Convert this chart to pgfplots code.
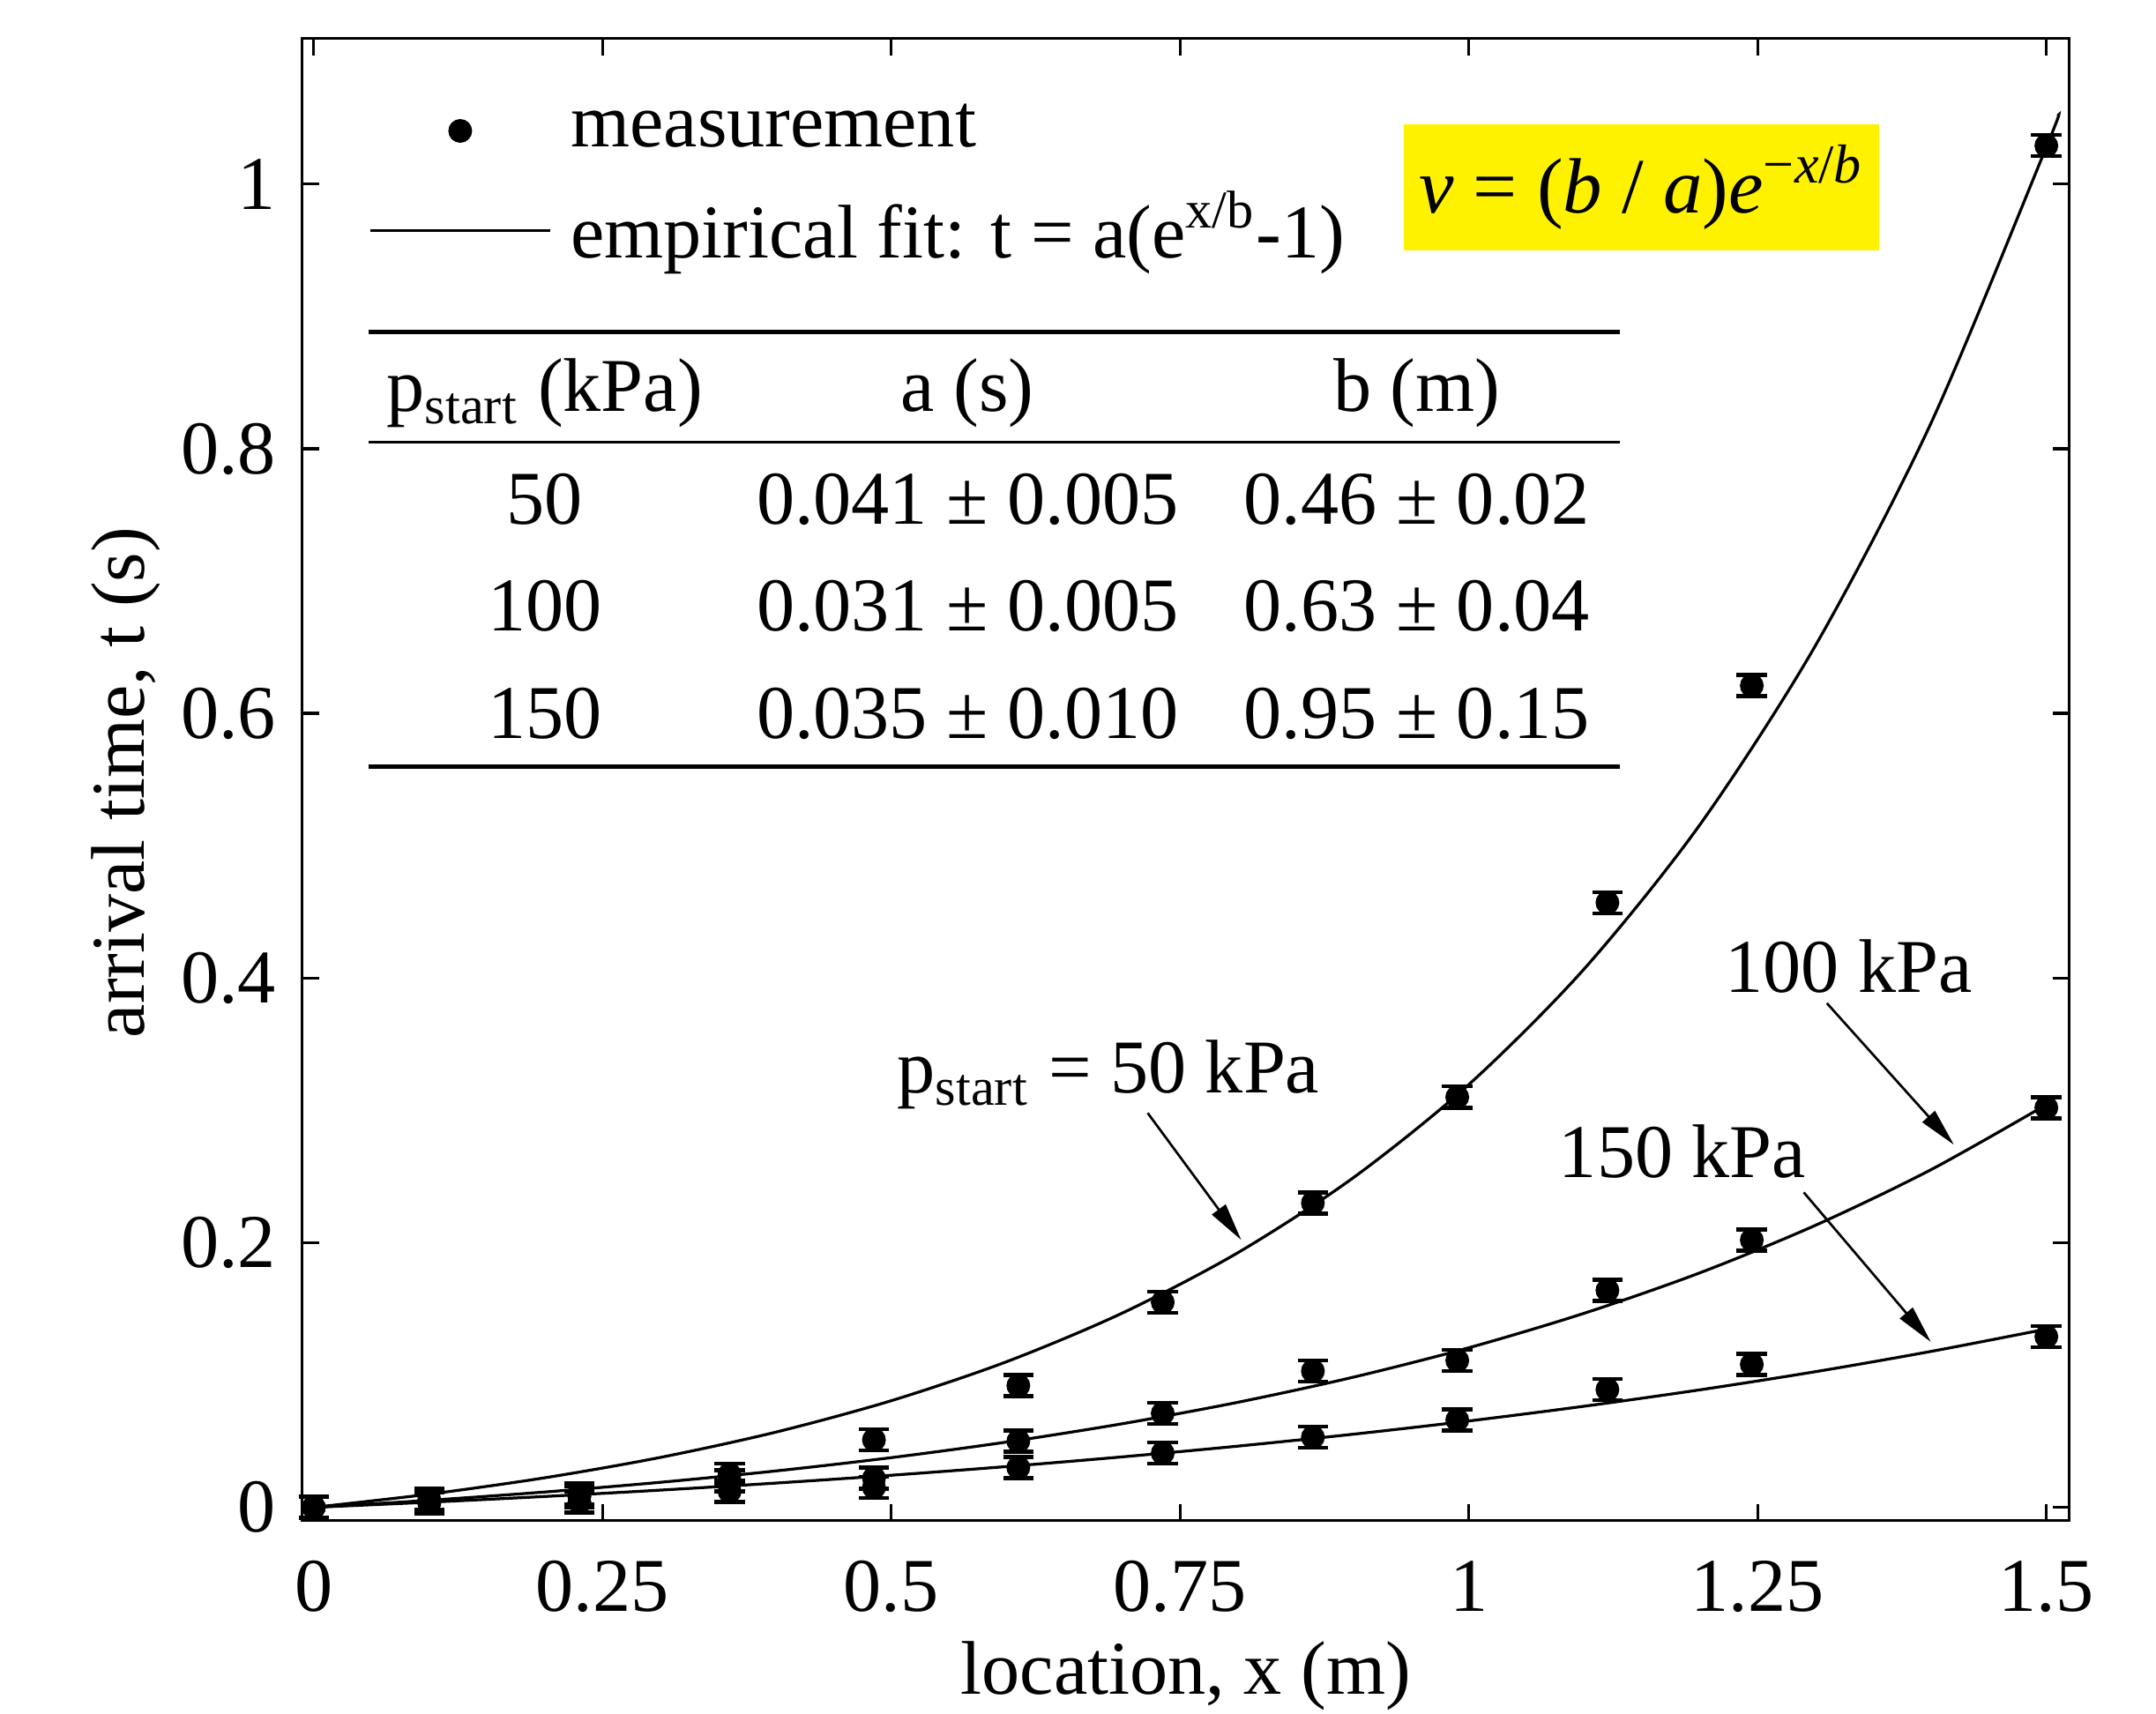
\documentclass[border=0pt]{standalone}
\usepackage{fontspec}
\setmainfont{Liberation Serif}
\usepackage{pgfplots}
\pgfplotsset{compat=1.18}
\usetikzlibrary{arrows.meta}

% measurements: x, t, error
\pgfplotstableread{
x     t      e
0     0      0.008
0.1   0.006  0.008
0.23  0.010  0.008
0.36  0.025  0.008
0.485 0.051  0.008
0.61  0.092  0.008
0.735 0.155  0.008
0.865 0.230  0.008
0.99  0.310  0.008
1.12  0.457  0.008
1.245 0.621  0.008
1.5   1.029  0.008
}\measA
\pgfplotstableread{
x     t      e
0     0      0.008
0.1   0.004  0.008
0.23  0.008  0.008
0.36  0.020  0.008
0.485 0.022  0.008
0.61  0.050  0.008
0.735 0.071  0.008
0.865 0.103  0.008
0.99  0.111  0.008
1.12  0.164  0.008
1.245 0.202  0.008
1.5   0.302  0.008
}\measB
\pgfplotstableread{
x     t      e
0     0      0.008
0.1   0.003  0.008
0.23  0.004  0.008
0.36  0.012  0.008
0.485 0.015  0.008
0.61  0.030  0.008
0.735 0.041  0.008
0.865 0.053  0.008
0.99  0.066  0.008
1.12  0.089  0.008
1.245 0.108  0.008
1.5   0.129  0.008
}\measC

\begin{document}
\fontsize{16}{19}\selectfont
\begin{tikzpicture}
\begin{axis}[
  scale only axis, width=372pt, height=312pt,
  xmin=-0.01, xmax=1.52, ymin=-0.01, ymax=1.11,
  xtick={0,0.25,0.5,0.75,1,1.25,1.5},
  ytick={0,0.2,0.4,0.6,0.8,1},
  tick align=inside, major tick length=3.5pt,
  /pgf/number format/assume math mode=true,
  axis line style={line width=0.6pt},
  tick style={line width=0.6pt, black},
  xlabel={location, x (m)}, ylabel={arrival time, t (s)},
  every axis x label/.style={at={(rel axis cs:0.5,-0.105)}, anchor=center, inner sep=0pt},
  every axis y label/.style={at={(rel axis cs:-0.1,0.498)}, anchor=center, rotate=90, inner sep=0pt},
  xticklabel style={yshift=-3pt},
  clip=false,
  legend image code/.code={\draw[mark repeat=2,mark phase=2,#1] plot coordinates {(0pt,0pt) (19pt,0pt) (38pt,0pt)};},
  legend style={draw=none, fill=none, at={(rel axis cs:0.037,0.963)}, anchor=north west,
    legend cell align=left, row sep=3pt, inner sep=0pt},
  meas/.style={black, only marks, mark=*, mark size=2.3pt,
    error bars/.cd, y dir=both, y explicit,
    error mark options={rotate=90, mark size=3.2pt, line width=0.8pt},
    error bar style={line width=0.8pt}, /pgfplots/.cd},
  fit/.style={black, line width=0.6pt, smooth, no marks},
]
\addlegendimage{black, only marks, mark=*, mark size=2.3pt}
\addlegendentry{\hspace{2pt}measurement}
\addlegendimage{black, line width=0.6pt}
\addlegendentry{\hspace{2pt}empirical fit: t = a(e\textsuperscript{x/b}-1)}

% fits t = a(exp(x/b)-1), tabulated
\addplot[fit, forget plot] coordinates {
(0,0) (0.1,0.00996) (0.2,0.02233) (0.3,0.03771) (0.4,0.05682) (0.5,0.08058)
(0.6,0.1101) (0.7,0.1468) (0.8,0.1924) (0.9,0.2491) (1.0,0.3195) (1.1,0.4070)
(1.2,0.5158) (1.3,0.6511) (1.4,0.8191) (1.5,1.0280) (1.51,1.0515)};
\addplot[fit, forget plot] coordinates {
(0,0) (0.1,0.00533) (0.2,0.01158) (0.3,0.01891) (0.4,0.02749) (0.5,0.03755)
(0.6,0.04935) (0.7,0.06317) (0.8,0.07937) (0.9,0.09835) (1.0,0.1206) (1.1,0.1467)
(1.2,0.1772) (1.3,0.2131) (1.4,0.2551) (1.5,0.3043)};
\addplot[fit, forget plot] coordinates {
(0,0) (0.1,0.003885) (0.2,0.0082) (0.3,0.0130) (0.4,0.01832) (0.5,0.02424)
(0.6,0.03082) (0.7,0.03813) (0.8,0.04625) (0.9,0.05526) (1.0,0.06528) (1.1,0.07642)
(1.2,0.08878) (1.3,0.1025) (1.4,0.1178) (1.5,0.1347)};

\addplot[forget plot, meas] table[x=x, y=t, y error=e] {\measA};
\addplot[forget plot, meas] table[x=x, y=t, y error=e] {\measB};
\addplot[forget plot, meas] table[x=x, y=t, y error=e] {\measC};

% formula box
\node[fill=yellow, anchor=north west, minimum width=100pt, minimum height=26.6pt,
  inner sep=2pt, font=\fontsize{16.5}{20}\selectfont]
  at (axis cs:0.943,1.046)
  {\textit{v} = (\textit{b} / \textit{a})\textit{e}\textsuperscript{−\textit{x}/\textit{b}}};

% parameter table
\draw[line width=0.9pt] (axis cs:0.0476,0.888) -- (axis cs:1.131,0.888);
\draw[line width=0.7pt] (axis cs:0.0476,0.805) -- (axis cs:1.131,0.805);
\draw[line width=0.9pt] (axis cs:0.0476,0.560) -- (axis cs:1.131,0.560);
\node at (axis cs:0.2,0.842) {p\textsubscript{start} (kPa)};
\node at (axis cs:0.566,0.842) {a (s)};
\node at (axis cs:0.955,0.842) {b (m)};
\node at (axis cs:0.2,0.762) {50};
\node at (axis cs:0.566,0.762) {0.041 ± 0.005};
\node at (axis cs:0.955,0.762) {0.46 ± 0.02};
\node at (axis cs:0.2,0.681) {100};
\node at (axis cs:0.566,0.681) {0.031 ± 0.005};
\node at (axis cs:0.955,0.681) {0.63 ± 0.04};
\node at (axis cs:0.2,0.600) {150};
\node at (axis cs:0.566,0.600) {0.035 ± 0.010};
\node at (axis cs:0.955,0.600) {0.95 ± 0.15};

% curve annotations
\node at (axis cs:0.688,0.327) {p\textsubscript{start} = 50 kPa};
\draw[-{Triangle[length=8pt,width=3.5pt]}, line width=0.5pt] (axis cs:0.722,0.298) -- (axis cs:0.803,0.202);
\node at (axis cs:1.329,0.409) {100 kPa};
\draw[-{Triangle[length=8pt,width=3.5pt]}, line width=0.5pt] (axis cs:1.310,0.381) -- (axis cs:1.420,0.274);
\node at (axis cs:1.185,0.269) {150 kPa};
\draw[-{Triangle[length=8pt,width=3.5pt]}, line width=0.5pt] (axis cs:1.290,0.238) -- (axis cs:1.400,0.125);

% keep the reference's margins
\path (rel axis cs:-0.171,-0.130) rectangle (rel axis cs:1.049,1.026);
\end{axis}
\end{tikzpicture}
\end{document}
